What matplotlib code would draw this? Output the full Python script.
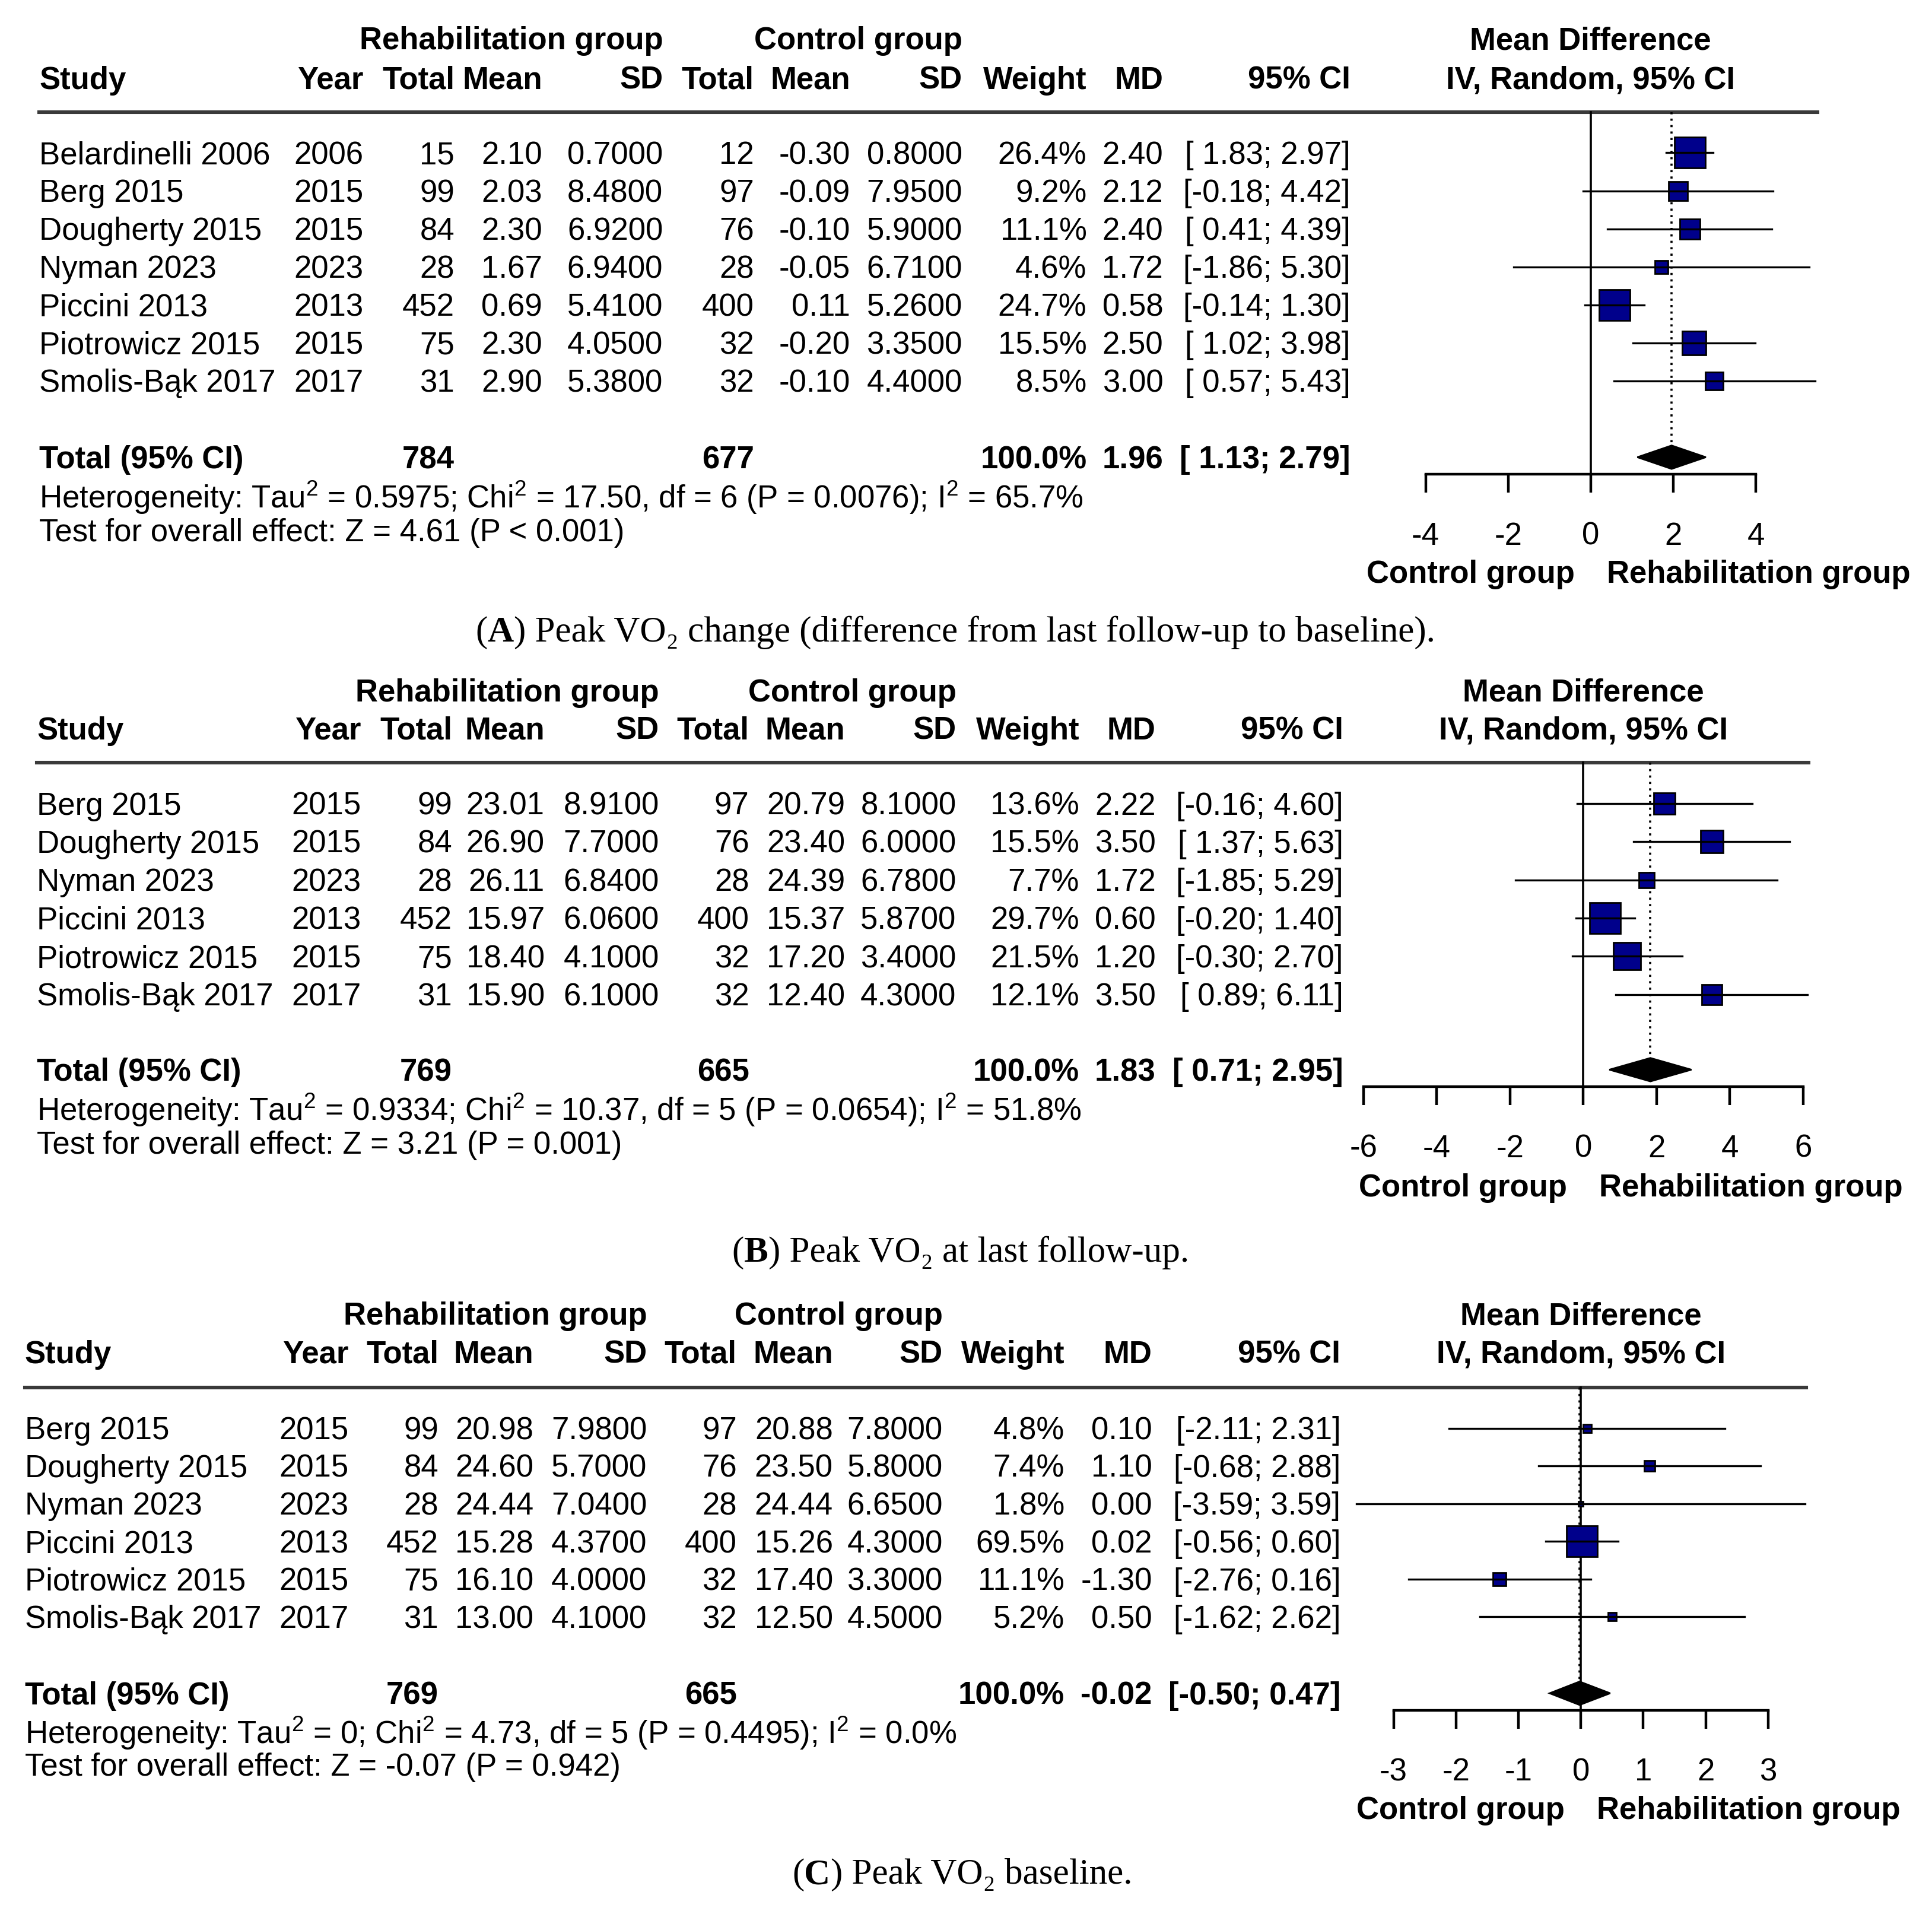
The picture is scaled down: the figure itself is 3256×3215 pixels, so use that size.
import matplotlib
matplotlib.use("Agg")
import matplotlib.pyplot as plt
import numpy as np

plt.rcParams['font.family'] = ['Liberation Sans', 'DejaVu Sans']
plt.rcParams['mathtext.fontset'] = 'custom'
plt.rcParams['mathtext.rm'] = 'Liberation Sans'
plt.rcParams['mathtext.it'] = 'Liberation Sans:italic'
plt.rcParams['mathtext.bf'] = 'Liberation Sans:bold'

W, H, DPI = 3256, 3215, 200
K = W / 1568.0          # layout numbers below were measured on a 1568 px wide copy
FW, FH = W / K, H / K
FS = 19

# ---------------- (A) peak VO2 change ----------------
studies_a = ["Belardinelli 2006", "Berg 2015", "Dougherty 2015", "Nyman 2023",
             "Piccini 2013", "Piotrowicz 2015", "Smolis-Bąk 2017"]
years_a = [2006, 2015, 2015, 2023, 2013, 2015, 2017]
rn_a = [15, 99, 84, 28, 452, 75, 31]
rmean_a = [2.10, 2.03, 2.30, 1.67, 0.69, 2.30, 2.90]
rsd_a = [0.70, 8.48, 6.92, 6.94, 5.41, 4.05, 5.38]
cn_a = [12, 97, 76, 28, 400, 32, 32]
cmean_a = [-0.30, -0.09, -0.10, -0.05, 0.11, -0.20, -0.10]
csd_a = [0.80, 7.95, 5.90, 6.71, 5.26, 3.35, 4.40]
weight_a = [26.4, 9.2, 11.1, 4.6, 24.7, 15.5, 8.5]
md_a = [2.40, 2.12, 2.40, 1.72, 0.58, 2.50, 3.00]
lo_a = [1.83, -0.18, 0.41, -1.86, -0.14, 1.02, 0.57]
hi_a = [2.97, 4.42, 4.39, 5.30, 1.30, 3.98, 5.43]
total_a = [784, 677, 1.96, 1.13, 2.79]
het_a = "Heterogeneity: Tau$^2$ = 0.5975; Chi$^2$ = 17.50, df = 6 (P = 0.0076); I$^2$ = 65.7%"
test_a = "Test for overall effect: Z = 4.61 (P < 0.001)"
ticks_a = [-4, -2, 0, 2, 4]

# ---------------- (B) peak VO2 at last follow-up ----------------
studies_b = ["Berg 2015", "Dougherty 2015", "Nyman 2023", "Piccini 2013",
             "Piotrowicz 2015", "Smolis-Bąk 2017"]
years_b = [2015, 2015, 2023, 2013, 2015, 2017]
rn_b = [99, 84, 28, 452, 75, 31]
rmean_b = [23.01, 26.90, 26.11, 15.97, 18.40, 15.90]
rsd_b = [8.91, 7.70, 6.84, 6.06, 4.10, 6.10]
cn_b = [97, 76, 28, 400, 32, 32]
cmean_b = [20.79, 23.40, 24.39, 15.37, 17.20, 12.40]
csd_b = [8.10, 6.00, 6.78, 5.87, 3.40, 4.30]
weight_b = [13.6, 15.5, 7.7, 29.7, 21.5, 12.1]
md_b = [2.22, 3.50, 1.72, 0.60, 1.20, 3.50]
lo_b = [-0.16, 1.37, -1.85, -0.20, -0.30, 0.89]
hi_b = [4.60, 5.63, 5.29, 1.40, 2.70, 6.11]
total_b = [769, 665, 1.83, 0.71, 2.95]
het_b = "Heterogeneity: Tau$^2$ = 0.9334; Chi$^2$ = 10.37, df = 5 (P = 0.0654); I$^2$ = 51.8%"
test_b = "Test for overall effect: Z = 3.21 (P = 0.001)"
ticks_b = [-6, -4, -2, 0, 2, 4, 6]

# ---------------- (C) peak VO2 baseline ----------------
studies_c = ["Berg 2015", "Dougherty 2015", "Nyman 2023", "Piccini 2013",
             "Piotrowicz 2015", "Smolis-Bąk 2017"]
years_c = [2015, 2015, 2023, 2013, 2015, 2017]
rn_c = [99, 84, 28, 452, 75, 31]
rmean_c = [20.98, 24.60, 24.44, 15.28, 16.10, 13.00]
rsd_c = [7.98, 5.70, 7.04, 4.37, 4.00, 4.10]
cn_c = [97, 76, 28, 400, 32, 32]
cmean_c = [20.88, 23.50, 24.44, 15.26, 17.40, 12.50]
csd_c = [7.80, 5.80, 6.65, 4.30, 3.30, 4.50]
weight_c = [4.8, 7.4, 1.8, 69.5, 11.1, 5.2]
md_c = [0.10, 1.10, 0.00, 0.02, -1.30, 0.50]
lo_c = [-2.11, -0.68, -3.59, -0.56, -2.76, -1.62]
hi_c = [2.31, 2.88, 3.59, 0.60, 0.16, 2.62]
total_c = [769, 665, -0.02, -0.50, 0.47]
het_c = "Heterogeneity: Tau$^2$ = 0; Chi$^2$ = 4.73, df = 5 (P = 0.4495); I$^2$ = 0.0%"
test_c = "Test for overall effect: Z = -0.07 (P = 0.942)"
ticks_c = [-3, -2, -1, 0, 1, 2, 3]

header_cols = ["Year", "Total", "Mean", "SD", "Total", "Mean", "SD", "Weight", "MD", "95% CI"]

panels = [
    dict(letter="A", caption=") Peak VO₂ change (difference from last follow-up to baseline).",
         studies=studies_a, years=years_a, rn=rn_a, rmean=rmean_a, rsd=rsd_a,
         cn=cn_a, cmean=cmean_a, csd=csd_a, weight=weight_a, md=md_a, lo=lo_a, hi=hi_a,
         total=total_a, het=het_a, test=test_a, ticks=ticks_a),
    dict(letter="B", caption=") Peak VO₂ at last follow-up.",
         studies=studies_b, years=years_b, rn=rn_b, rmean=rmean_b, rsd=rsd_b,
         cn=cn_b, cmean=cmean_b, csd=csd_b, weight=weight_b, md=md_b, lo=lo_b, hi=hi_b,
         total=total_b, het=het_b, test=test_b, ticks=ticks_b),
    dict(letter="C", caption=") Peak VO₂ baseline.",
         studies=studies_c, years=years_c, rn=rn_c, rmean=rmean_c, rsd=rsd_c,
         cn=cn_c, cmean=cmean_c, csd=csd_c, weight=weight_c, md=md_c, lo=lo_c, hi=hi_c,
         total=total_c, het=het_c, test=test_c, ticks=ticks_c),
]

# positions (in units of the 1568 px copy)
layouts = [
    dict(x0=32, cols=[295, 369, 440, 538, 612, 690, 781, 882, 944, 1096],
         h1=31, h2=63, sep=91, line_end=1475, row0=124, dy=30.83, tot=371, het=403, test=430,
         zero=1291, ppu=33.5, axis=385, lab=464, cap_x=386, cap_y=511),
    dict(x0=30, cols=[293, 367, 442, 535, 608, 686, 776, 876, 938, 1090],
         h1=560, h2=591, sep=619, line_end=1468, row0=652, dy=31.0, tot=868, het=900, test=927,
         zero=1285, ppu=29.75, axis=882, lab=962, cap_x=594, cap_y=1014),
    dict(x0=20, cols=[283, 356, 433, 525, 598, 676, 765, 864, 935, 1088],
         h1=1066, h2=1097, sep=1126, line_end=1466, row0=1159, dy=30.6, tot=1374, het=1406, test=1432,
         zero=1283, ppu=50.67, axis=1388, lab=1467, cap_x=643, cap_y=1519),
]

BASE = 9       # baseline lies this far below the visual middle of a text row
SQ_MAX = 53    # side of the largest square in output pixels
BLUE = "#00008B"
CAP_FS = 22


def fmt_ci(lo, hi):
    return "[%5.2f; %4.2f]" % (lo, hi)


def draw_panel(fig, bg, d, L):
    c = L["cols"]
    n = len(d["studies"])

    # header
    bg.text(c[3], L["h1"] + BASE, "Rehabilitation group", ha="right", va="baseline",
            fontsize=FS, fontweight="bold")
    bg.text(c[6], L["h1"] + BASE, "Control group", ha="right", va="baseline",
            fontsize=FS, fontweight="bold")
    bg.text(L["x0"], L["h2"] + BASE, "Study", ha="left", va="baseline",
            fontsize=FS, fontweight="bold")
    for x, lab in zip(c, header_cols):
        bg.text(x, L["h2"] + BASE, lab, ha="right", va="baseline", fontsize=FS, fontweight="bold")
    bg.plot([L["x0"], L["line_end"]], [L["sep"], L["sep"]], color="#3a3a3a", lw=2.2)

    rows_y = [L["row0"] + i * L["dy"] for i in range(n)]
    for i, y in enumerate(rows_y):
        cells = [str(d["years"][i]), str(d["rn"][i]), "%.2f" % d["rmean"][i],
                 "%.4f" % d["rsd"][i], str(d["cn"][i]), "%.2f" % d["cmean"][i],
                 "%.4f" % d["csd"][i], "%.1f%%" % d["weight"][i], "%.2f" % d["md"][i],
                 fmt_ci(d["lo"][i], d["hi"][i])]
        bg.text(L["x0"], y + BASE, d["studies"][i], ha="left", va="baseline", fontsize=FS)
        for x, s in zip(c, cells):
            bg.text(x, y + BASE, s, ha="right", va="baseline", fontsize=FS)

    t_rn, t_cn, t_md, t_lo, t_hi = d["total"]
    yb = L["tot"] + BASE
    bg.text(L["x0"], yb, "Total (95% CI)", ha="left", va="baseline", fontsize=FS, fontweight="bold")
    for x, s in [(c[1], str(t_rn)), (c[4], str(t_cn)), (c[7], "100.0%"),
                 (c[8], "%.2f" % t_md), (c[9], fmt_ci(t_lo, t_hi))]:
        bg.text(x, yb, s, ha="right", va="baseline", fontsize=FS, fontweight="bold")
    bg.text(L["x0"], L["het"] + BASE, d["het"], ha="left", va="baseline", fontsize=FS)
    bg.text(L["x0"], L["test"] + BASE, d["test"], ha="left", va="baseline", fontsize=FS)

    # caption: "(" + bold letter + rest, chained one after another
    serif = ["Liberation Serif", "DejaVu Serif"]
    t1 = bg.text(L["cap_x"], L["cap_y"] + 16, "(", ha="left", va="bottom",
                 fontsize=CAP_FS, family=serif)
    t2 = bg.annotate(d["letter"], xy=(1, 0), xycoords=t1, ha="left", va="bottom",
                     fontsize=CAP_FS, family=serif, fontweight="bold")
    bg.annotate(d["caption"], xy=(1, 0), xycoords=t2, ha="left", va="bottom",
                fontsize=CAP_FS, family=serif)

    # forest plot
    fx0, fx1 = L["zero"] - 200, FW
    fy0, fy1 = L["h1"] - 25, L["lab"] + 25
    ax = fig.add_axes([fx0 / FW, 1 - fy1 / FH, (fx1 - fx0) / FW, (fy1 - fy0) / FH])
    ax.set_xlim((fx0 - L["zero"]) / L["ppu"], (fx1 - L["zero"]) / L["ppu"])
    ax.set_ylim(fy1, fy0)
    ax.patch.set_alpha(0)

    ax.text(0, L["h1"] + BASE, "Mean Difference", ha="center", va="baseline",
            fontsize=FS, fontweight="bold")
    ax.text(0, L["h2"] + BASE, "IV, Random, 95% CI", ha="center", va="baseline",
            fontsize=FS, fontweight="bold")

    ax.plot([0, 0], [L["sep"], L["axis"]], color="black", lw=1.3)
    dh = 9.5
    ax.plot([t_md, t_md], [L["sep"], L["tot"] - dh], color="black", lw=1.3, ls=(0, (1, 2)))

    wmax = max(d["weight"])
    for i, y in enumerate(rows_y):
        side = SQ_MAX * np.sqrt(d["weight"][i] / wmax) * 72.0 / DPI
        ax.plot(d["md"][i], y, marker="s", ms=side, mfc=BLUE, mec="black", mew=1.0, zorder=3)
        ax.plot([d["lo"][i], d["hi"][i]], [y, y], color="black", lw=1.2, zorder=4)

    ax.fill([t_lo, t_md, t_hi, t_md], [L["tot"], L["tot"] - dh, L["tot"], L["tot"] + dh],
            color="black", zorder=3)

    for s in ["top", "left", "right"]:
        ax.spines[s].set_visible(False)
    ax.spines["bottom"].set_position(("data", L["axis"]))
    ax.spines["bottom"].set_bounds(d["ticks"][0], d["ticks"][-1])
    ax.spines["bottom"].set_linewidth(1.6)
    ax.set_xticks(d["ticks"])
    ax.set_xticklabels([str(t) for t in d["ticks"]])
    ax.tick_params(axis="x", direction="out", length=11, width=1.6, pad=17.5, labelsize=FS)
    ax.set_yticks([])

    off = 13 * K * 72.0 / DPI
    ax.annotate("Control group", xy=(0, L["lab"] + BASE), xytext=(-off, 0),
                textcoords="offset points", ha="right", va="baseline",
                fontsize=FS, fontweight="bold")
    ax.annotate("Rehabilitation group", xy=(0, L["lab"] + BASE), xytext=(off, 0),
                textcoords="offset points", ha="left", va="baseline",
                fontsize=FS, fontweight="bold")


def main():
    fig = plt.figure(figsize=(W / DPI, H / DPI), dpi=DPI)
    bg = fig.add_axes([0, 0, 1, 1])
    bg.set_xlim(0, FW)
    bg.set_ylim(FH, 0)
    bg.axis("off")
    for d, L in zip(panels, layouts):
        draw_panel(fig, bg, d, L)
    fig.savefig("out.png", dpi=DPI, facecolor="white")


if __name__ == "__main__":
    main()
